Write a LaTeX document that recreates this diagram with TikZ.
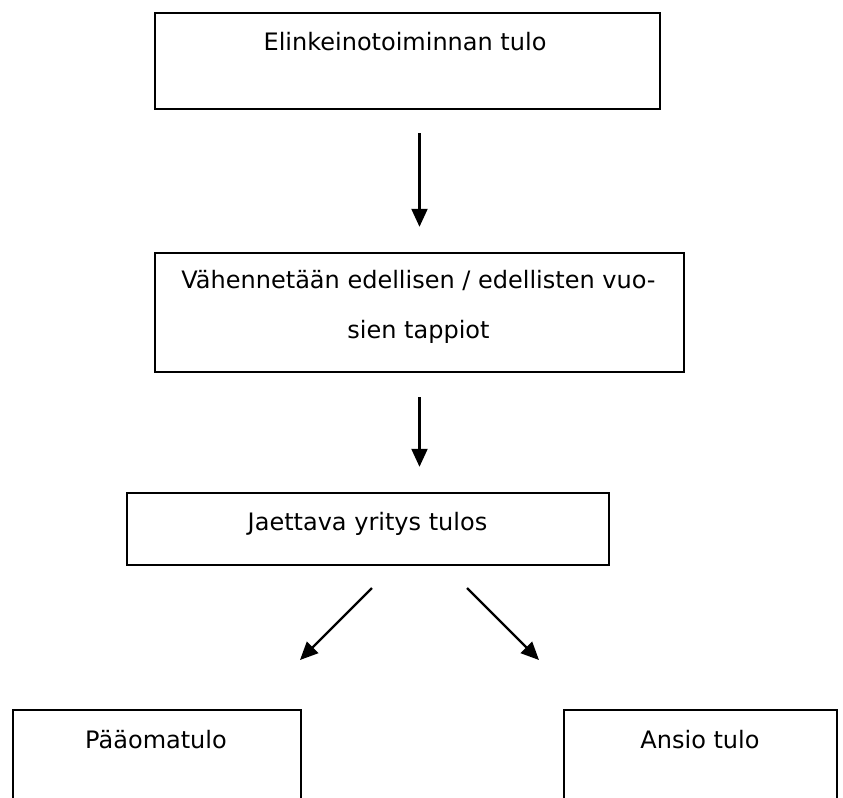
\documentclass[tikz,border=0pt]{standalone}
\usepackage{fontspec}
\setmainfont{DejaVu Sans}
\usetikzlibrary{arrows.meta}
\tikzset{>={Triangle[length=9pt, width=8pt]}}

\begin{document}
\begin{tikzpicture}[x=.5pt, y=-.5pt, box/.style={draw, line width=1.2pt, inner sep=0pt}, lbl/.style={anchor=base, inner sep=0pt, font={\fontsize{12}{25}\selectfont}, align=center}, arr/.style={->, line width=1.1pt}]
    \useasboundingbox(0, 0)rectangle(843, 798);
    \clip(0, 0)rectangle(843, 798);
    \node[box, minimum width=252.5pt, minimum height=48pt](b1) at(407.5, 61){};
    \node[box, minimum width=264.5pt, minimum height=59.5pt](b2) at(419.5, 312.5){};
    \node[box, minimum width=241pt, minimum height=36pt](b3) at(368, 529){};
    \node[box, minimum width=144pt, minimum height=60pt, anchor=north west](b4) at(12, 709){};
    \node[box, minimum width=136.5pt, minimum height=60pt, anchor=north west](b5) at(563, 709){};
    \node[lbl](t1) at(405, 50){Elinkeinotoiminnan tulo};
    \node[lbl](t2) at(418.5, 338){Vähennetään edellisen / edellisten vuo-\\sien tappiot};
    \node[lbl](t3) at(367.5, 530){Jaettava yritys tulos};
    \node[lbl](t4) at(156, 748){Pääomatulo};
    \node[lbl](t5) at(700, 748){Ansio tulo};
    \draw[arr, shorten <=11.5pt, shorten >=12.5pt](b2.north |- b1.south)--(b2.north);
    \draw[arr, shorten <=12pt, shorten >=12.5pt](b2.south)--(b2.south |- b3.north);
    \coordinate(l0) at(372, 588);
    \coordinate(l1) at(300, 660);
    \coordinate(r0) at(467, 588);
    \coordinate(r1) at(539, 660);
    \draw[arr](l0)--(l1);
    \draw[arr](r0)--(r1);
\end{tikzpicture}
\end{document}
